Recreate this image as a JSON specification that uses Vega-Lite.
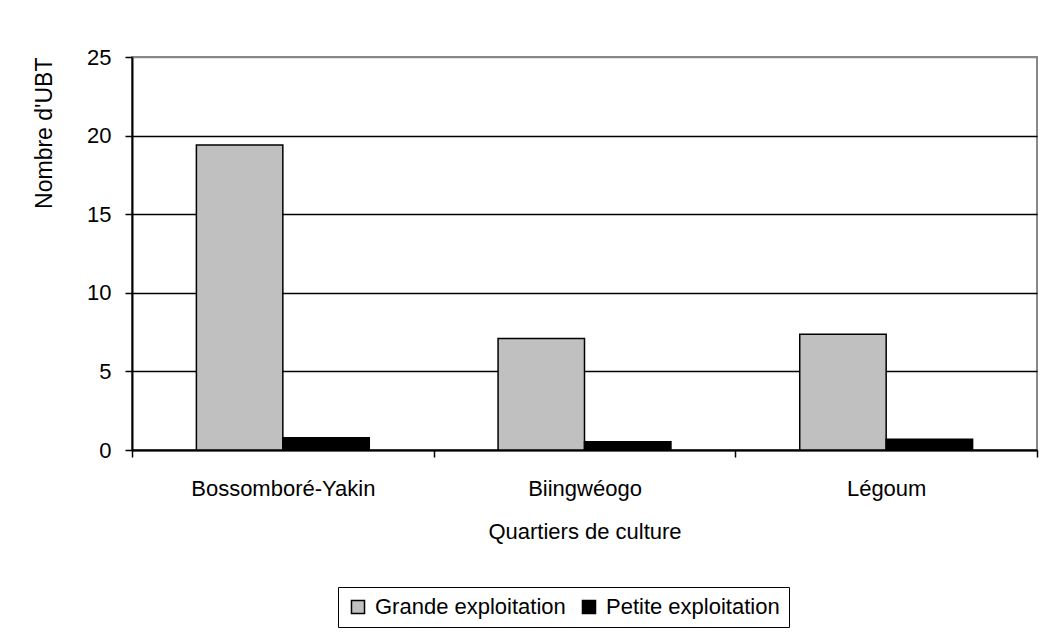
{
  "$schema": "https://vega.github.io/schema/vega-lite/v6.json",
  "autosize": {"type": "none"},
  "width": 905,
  "height": 393,
  "padding": {"left": 132, "top": 57, "right": 9, "bottom": 188},
  "background": "white",
  "config": {
    "font": "Liberation Sans",
    "view": {"stroke": "#888888", "strokeWidth": 2}
  },
  "data": {
    "values": [
      {"quartier": "Bossomboré-Yakin", "type": "Grande exploitation", "ubt": 19.4},
      {"quartier": "Bossomboré-Yakin", "type": "Petite exploitation", "ubt": 0.78},
      {"quartier": "Biingwéogo", "type": "Grande exploitation", "ubt": 7.1},
      {"quartier": "Biingwéogo", "type": "Petite exploitation", "ubt": 0.53},
      {"quartier": "Légoum", "type": "Grande exploitation", "ubt": 7.37},
      {"quartier": "Légoum", "type": "Petite exploitation", "ubt": 0.68}
    ]
  },
  "mark": {"type": "bar", "stroke": "black", "strokeWidth": 1.5},
  "encoding": {
    "x": {
      "field": "quartier",
      "type": "nominal",
      "sort": ["Bossomboré-Yakin", "Biingwéogo", "Légoum"],
      "scale": {"paddingInner": 0, "paddingOuter": 0},
      "axis": {
        "title": "Quartiers de culture",
        "titleFont": "Liberation Sans",
        "titleFontSize": 22,
        "titleFontWeight": "normal",
        "titleColor": "black",
        "titlePadding": 22,
        "labelAngle": 0,
        "labelFontSize": 22,
        "labelColor": "black",
        "labelPadding": 21,
        "labelLimit": 0,
        "tickBand": "extent",
        "tickSize": 7,
        "tickColor": "black",
        "tickWidth": 1.5,
        "domainColor": "black",
        "domainWidth": 2,
        "grid": false
      }
    },
    "xOffset": {
      "field": "type",
      "type": "nominal",
      "scale": {"paddingInner": 0, "paddingOuter": 0.745}
    },
    "y": {
      "field": "ubt",
      "type": "quantitative",
      "scale": {"domain": [0, 25], "nice": false},
      "axis": {
        "title": "Nombre d'UBT",
        "titleFont": "Liberation Sans",
        "titleFontSize": 23,
        "titleFontWeight": "normal",
        "titleColor": "black",
        "titlePadding": 30,
        "titleAnchor": "end",
        "values": [0, 5, 10, 15, 20, 25],
        "labelFontSize": 22,
        "labelColor": "black",
        "labelPadding": 14,
        "tickSize": 7,
        "tickColor": "black",
        "tickWidth": 1.5,
        "domainColor": "black",
        "domainWidth": 2,
        "grid": true,
        "gridColor": {"condition": {"test": "datum.value === 25", "value": "#888888"}, "value": "black"},
        "gridWidth": 1.5,
        "gridOpacity": 1
      }
    },
    "color": {
      "field": "type",
      "type": "nominal",
      "scale": {"domain": ["Grande exploitation", "Petite exploitation"], "range": ["#C0C0C0", "#000000"]},
      "legend": {
        "title": null,
        "orient": "none",
        "direction": "horizontal",
        "legendX": 206,
        "legendY": 530,
        "strokeColor": "black",
        "padding": 9,
        "symbolType": "square",
        "symbolSize": 170,
        "symbolStrokeColor": "black",
        "symbolStrokeWidth": 1.5,
        "labelFontSize": 22,
        "labelColor": "black",
        "labelLimit": 0,
        "labelOffset": 6,
        "columnPadding": 12
      }
    }
  }
}
